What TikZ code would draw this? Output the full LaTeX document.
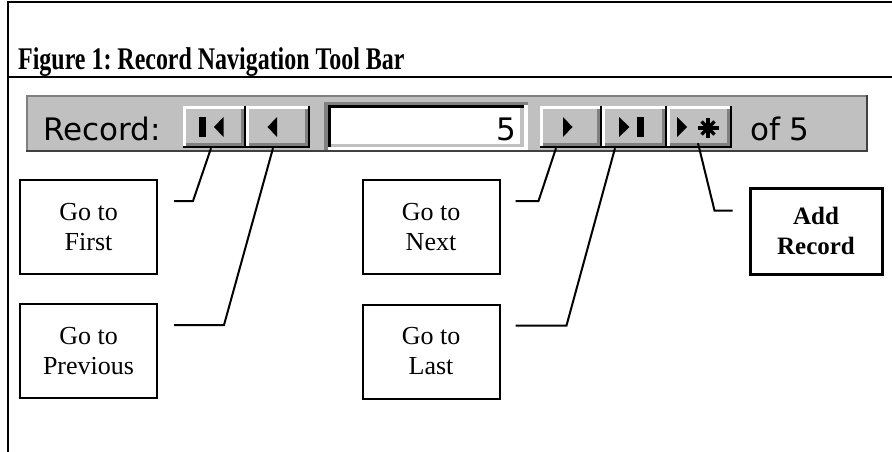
\documentclass[tikz,border=0pt]{standalone}
\usepackage{fontspec}
\setmainfont{Liberation Serif}
\newfontfamily\uifont{DejaVu Sans}
\newfontfamily\titlefont[FakeStretch=0.76]{Liberation Serif}
\usetikzlibrary{calc}
\frenchspacing
\definecolor{btnface}{HTML}{C0C0C0}
\definecolor{btnshadow}{HTML}{808080}
\definecolor{btndark}{HTML}{404040}
\tikzset{
  frameline/.style={line width=2pt, black},
  conn/.style={line width=2pt, black, line join=miter},
  callout/.style={draw, line width=2pt, rectangle, inner sep=0pt, align=center,
    minimum width=137pt, minimum height=94pt,
    font=\fontsize{26}{30}\selectfont},
  calloutbold/.style={callout, line width=3pt, minimum width=132pt, minimum height=86pt,
    font=\bfseries\fontsize{25}{30}\selectfont},
  uitext/.style={inner sep=0pt, font=\uifont\fontsize{31}{31}\selectfont},
  toolbar/.style={fill=btnface, inner sep=0pt, minimum width=842pt, minimum height=57pt,
    path picture={
      \def\pb{path picture bounding box}
      \fill[btnshadow] (\pb.north west) rectangle ([yshift=-2pt]\pb.north east);
      \fill[btnshadow] (\pb.north west) rectangle ([xshift=2pt]\pb.south west);
      \fill[btndark] (\pb.south west) rectangle ([yshift=2pt]\pb.south east);
      \fill[btndark] ([xshift=-2pt]\pb.north east) rectangle (\pb.south east);
    }},
  tbbtn/.style={fill=btnface, inner sep=0pt, minimum height=42pt,
    path picture={
      \def\pb{path picture bounding box}
      \fill[btnshadow] ([xshift=2.5pt,yshift=2.5pt]\pb.south west) rectangle ([xshift=-2.5pt,yshift=5pt]\pb.south east);
      \fill[btnshadow] ([xshift=-5pt,yshift=-2.5pt]\pb.north east) rectangle ([xshift=-2.5pt,yshift=2.5pt]\pb.south east);
      \fill[black] (\pb.south west) rectangle ([yshift=2.5pt]\pb.south east);
      \fill[black] ([xshift=-2.5pt]\pb.north east) rectangle (\pb.south east);
      \fill[white] (\pb.north west) rectangle ([xshift=-2.5pt,yshift=-2.5pt]\pb.north east);
      \fill[white] (\pb.north west) rectangle ([xshift=2.5pt,yshift=2.5pt]\pb.south west);
    }},
  textbox/.style={fill=white, inner sep=0pt, minimum width=204pt, minimum height=48pt,
    path picture={
      \def\pb{path picture bounding box}
      \fill[white] ([xshift=-4pt]\pb.north east) rectangle (\pb.south east);
      \fill[white] ([yshift=3pt]\pb.south west) rectangle (\pb.south east);
      \fill[btnface] ([xshift=-8pt,yshift=-6pt]\pb.north east) rectangle ([xshift=-4pt,yshift=3pt]\pb.south east);
      \fill[btnface] ([xshift=7pt,yshift=3pt]\pb.south west) rectangle ([xshift=-4pt,yshift=6pt]\pb.south east);
      \fill[btnshadow] (\pb.north west) rectangle ([yshift=-3pt]\pb.north east);
      \fill[btnshadow] (\pb.north west) rectangle ([xshift=4pt]\pb.south west);
      \fill[black] ([xshift=4pt,yshift=-3pt]\pb.north west) rectangle ([xshift=-4pt,yshift=-6pt]\pb.north east);
      \fill[black] ([xshift=4pt,yshift=-3pt]\pb.north west) rectangle ([xshift=7pt,yshift=3pt]\pb.south west);
    }},
  icon/.style={fill=black},
  star/.style={line width=3.2pt, black}
}
\begin{document}
\begin{tikzpicture}[x=1pt,y=-1pt]
\useasboundingbox (0,0) rectangle (892,452);
% frame
\draw[frameline] (8,452) -- (8,2) -- (892,2);
\draw[frameline] (8,77) -- (892,77);
\node[anchor=base west, inner sep=0pt, font=\titlefont\bfseries\fontsize{31.5}{32}\selectfont] (title) at (18,70) {Figure 1: Record Navigation Tool Bar};
% toolbar
\node[toolbar] (bar) at (447,123.5) {};
\node[uitext, anchor=base west] (reclabel) at (43,140) {Record:};
\node[tbbtn, minimum width=63pt] (bfirst) at (214.5,127) {};
\node[tbbtn, minimum width=64pt] (bprev) at (278,127) {};
\node[textbox] (tbox) at (426,126) {};
\node[uitext, anchor=base east] (recnum) at (516,140) {5};
\node[tbbtn, minimum width=62pt] (bnext) at (571,127) {};
\node[tbbtn, minimum width=65pt] (blast) at (634.5,127) {};
\node[tbbtn, minimum width=65pt] (bnew) at (699.5,127) {};
\node[uitext, anchor=base west] (oflabel) at (750,140) {of 5};
% icons
\begin{scope}[shift={(bfirst.center)}]
  \fill[icon] (-15.5,-10) rectangle (-9,10);
  \fill[icon] (-0.5,0) -- (9,-10) -- (9,10) -- cycle;
\end{scope}
\begin{scope}[shift={(bprev.center)}]
  \fill[icon] (-10.5,0) -- (-1,-10) -- (-1,10) -- cycle;
\end{scope}
\begin{scope}[shift={(bnext.center)}]
  \fill[icon] (-8,-10) -- (1.5,0) -- (-8,10) -- cycle;
\end{scope}
\begin{scope}[shift={(blast.center)}]
  \fill[icon] (-15.5,-10) -- (-5,0) -- (-15.5,10) -- cycle;
  \fill[icon] (2.5,-10) rectangle (9.5,10);
\end{scope}
\begin{scope}[shift={(bnew.center)}]
  \fill[icon] (-22.5,-10) -- (-12.5,0) -- (-22.5,10) -- cycle;
  \draw[star] (-2,1) -- (19,1);
  \draw[star] (8.5,-9) -- (8.5,11);
  \draw[star] (2,-5.5) -- (15,7.5);
  \draw[star] (2,7.5) -- (15,-5.5);
\end{scope}
% callout boxes
\node[callout] (first) at (88.5,227) {Go to\\First};
\node[callout] (prev) at (88.5,351) {Go to\\Previous};
\node[callout] (next) at (431,227) {Go to\\Next};
\node[callout] (last) at (431,351.5) {Go to\\Last};
\node[calloutbold] (add) at (816,231) {Add\\Record};
% connectors
\draw[conn] ($(first.north east)+(16,22)$) -- ++(19,0) -- ([xshift=-3.5pt]bfirst.south);
\draw[conn] ($(prev.north east)+(16,22)$) -- ++(50,0) -- ([xshift=-5pt]bprev.south);
\draw[conn] ($(next.north east)+(15,22)$) -- ++(23,0) -- ([xshift=-15pt]bnext.south);
\draw[conn] ($(last.north east)+(15,22)$) -- ++(51,0) -- ([xshift=-19.5pt]blast.south);
\draw[conn] ([xshift=-1.5pt,yshift=5pt]bnew.south) -- ($(add.north west)+(-34,24)$) -- ($(add.north west)+(-16,24)$);
\end{tikzpicture}
\end{document}
